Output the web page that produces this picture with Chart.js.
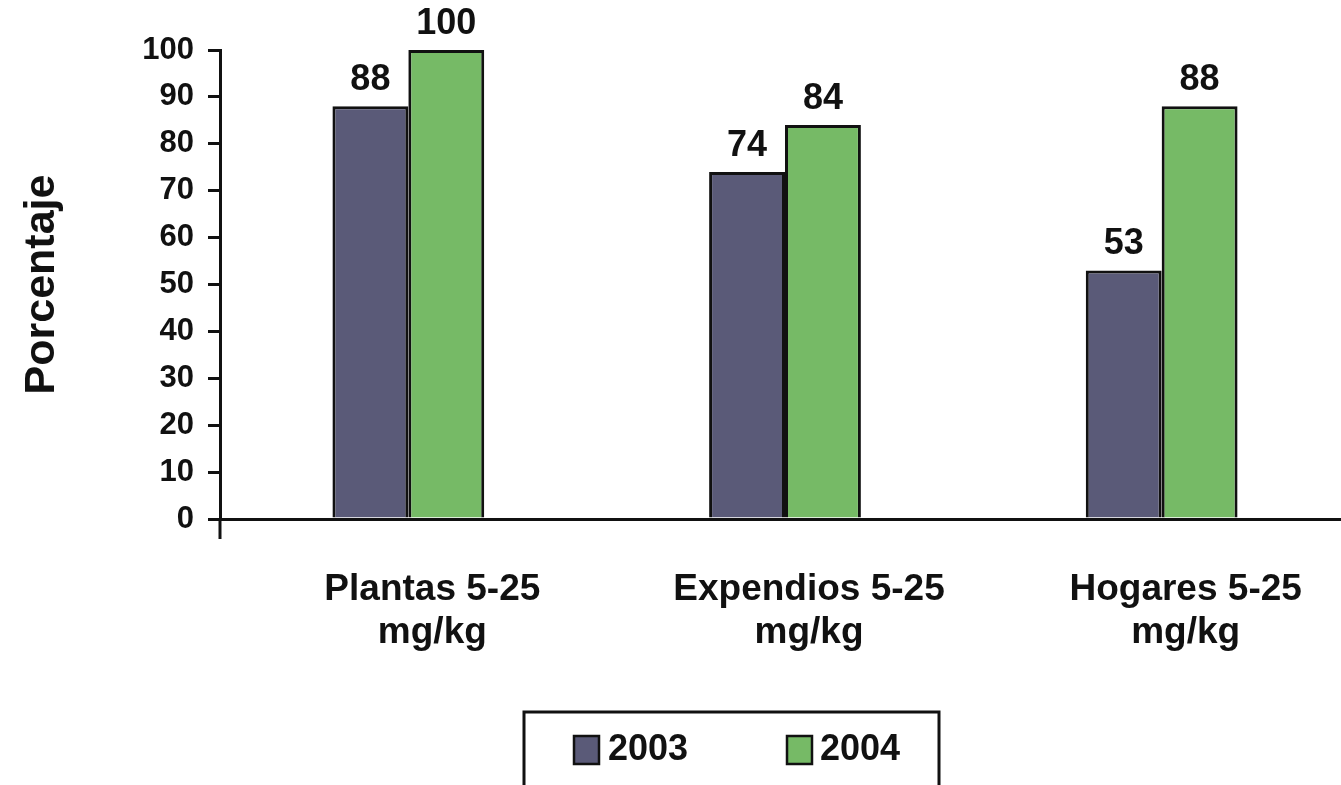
<!DOCTYPE html>
<html>
<head>
<meta charset="utf-8">
<script src="https://cdn.jsdelivr.net/npm/chart.js@4.4.1/dist/chart.umd.min.js"></script>
<style>
  html, body { margin: 0; padding: 0; background: #ffffff; overflow: hidden; }
  #wrap { width: 1350px; height: 785px; position: relative; }
</style>
</head>
<body>
<div id="wrap"><canvas id="chart"></canvas></div>
<script>
// Categories (two-line labels) and the two yearly series, in percent
const categories = [
  ['Plantas 5-25', 'mg/kg'],
  ['Expendios 5-25', 'mg/kg'],
  ['Hogares 5-25', 'mg/kg']
];
const seriesNames = ['2003', '2004'];
const values2003 = [88, 74, 53];
const values2004 = [100, 84, 88];
const yMin = 0;
const yMax = 100;
const yStep = 10;
const yTitle = 'Porcentaje';

const FONT = '"Liberation Sans", Arial, Helvetica, sans-serif';
const DARK = '#5a5a78';
const GREEN = '#76ba66';
const INK = '#111111';

// Value labels printed above every bar
const valueLabels = {
  id: 'valueLabels',
  afterDatasetsDraw(chart) {
    const ctx = chart.ctx;
    ctx.save();
    ctx.font = 'bold 36px ' + FONT;
    ctx.fillStyle = INK;
    ctx.textAlign = 'center';
    ctx.textBaseline = 'bottom';
    chart.data.datasets.forEach((ds, di) => {
      const meta = chart.getDatasetMeta(di);
      meta.data.forEach((bar, i) => {
        ctx.fillText(String(ds.data[i]), bar.x, bar.y - 8);
      });
    });
    ctx.restore();
  }
};

// Axis extension below the origin and the boxed legend at the bottom
const decorations = {
  id: 'decorations',
  afterDraw(chart) {
    const ctx = chart.ctx;
    const area = chart.chartArea;
    ctx.save();
    ctx.strokeStyle = INK;
    ctx.lineWidth = 3;
    ctx.beginPath();
    ctx.moveTo(area.left, area.bottom);
    ctx.lineTo(area.left, area.bottom + 20);
    ctx.stroke();

    // legend frame
    const bx = 524, by = 712, bw = 415, bh = 110;
    ctx.strokeRect(bx, by, bw, bh);

    const items = [
      { x: 574, tx: 608 },
      { x: 787, tx: 820 }
    ];
    ctx.font = 'bold 36px ' + FONT;
    ctx.textBaseline = 'middle';
    ctx.textAlign = 'left';
    chart.data.datasets.forEach((ds, i) => {
      const it = items[i];
      ctx.fillStyle = ds.backgroundColor;
      ctx.fillRect(it.x, 736, 25, 28);
      ctx.lineWidth = 2.5;
      ctx.strokeStyle = INK;
      ctx.strokeRect(it.x, 736, 25, 28);
      ctx.fillStyle = INK;
      ctx.fillText(ds.label, it.tx, 750);
    });
    ctx.restore();
  }
};

new Chart(document.getElementById('chart'), {
  type: 'bar',
  data: {
    labels: categories,
    datasets: [
      {
        label: seriesNames[0],
        data: values2003,
        backgroundColor: DARK,
        borderColor: INK,
        borderWidth: 3
      },
      {
        label: seriesNames[1],
        data: values2004,
        backgroundColor: GREEN,
        borderColor: INK,
        borderWidth: 3
      }
    ]
  },
  options: {
    responsive: true,
    maintainAspectRatio: false,
    animation: false,
    devicePixelRatio: 1,
    layout: { padding: { top: 50, right: 0, bottom: 0, left: 0 } },
    datasets: {
      bar: { barPercentage: 1.0, categoryPercentage: 0.403 }
    },
    plugins: {
      legend: { display: false },
      tooltip: { enabled: false }
    },
    scales: {
      x: {
        grid: { display: false, drawTicks: false },
        border: { display: true, color: INK, width: 3 },
        ticks: {
          color: INK,
          font: { family: FONT, size: 37, weight: 'bold', lineHeight: 1.15 },
          padding: 50,
          labelOffset: 24,
          maxRotation: 0,
          autoSkip: false
        },
        afterFit(scale) { scale.height = 266; }
      },
      y: {
        min: yMin,
        max: yMax,
        grid: {
          drawOnChartArea: false,
          drawTicks: true,
          tickLength: 12,
          color: INK,
          lineWidth: 3
        },
        border: { display: true, color: INK, width: 3 },
        ticks: {
          stepSize: yStep,
          color: INK,
          padding: 14,
          font: { family: FONT, size: 31, weight: 'bold' }
        },
        title: {
          display: true,
          text: yTitle,
          color: INK,
          padding: { top: 16, bottom: 0 },
          font: { family: FONT, size: 43, weight: 'bold', lineHeight: 1.2 }
        },
        afterFit(scale) { scale.width = 220; }
      }
    }
  },
  plugins: [valueLabels, decorations]
});
</script>
</body>
</html>
